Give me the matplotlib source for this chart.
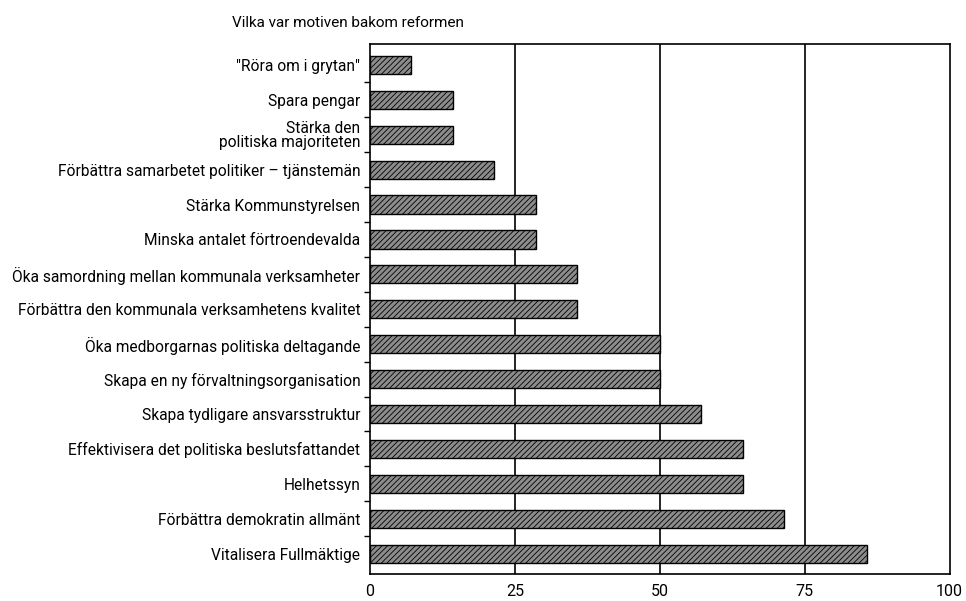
import matplotlib
matplotlib.use('Agg')
from matplotlib import pyplot as plt

# motiv, uppifrån och ned i diagrammet
motiv = ['"Röra om i grytan"', 'Spara pengar', 'Stärka den\npolitiska majoriteten',
         'Förbättra samarbetet politiker – tjänstemän', 'Stärka Kommunstyrelsen',
         'Minska antalet förtroendevalda', 'Öka samordning mellan kommunala verksamheter',
         'Förbättra den kommunala verksamhetens kvalitet', 'Öka medborgarnas politiska deltagande',
         'Skapa en ny förvaltningsorganisation', 'Skapa tydligare ansvarsstruktur',
         'Effektivisera det politiska beslutsfattandet', 'Helhetssyn',
         'Förbättra demokratin allmänt', 'Vitalisera Fullmäktige']
andel = [7.1, 14.3, 14.3, 21.4, 28.6, 28.6, 35.7, 35.7, 50.0, 50.0, 57.1, 64.3, 64.3, 71.4, 85.7]
xticks = [0, 25, 50, 75, 100]

plt.rcParams['font.family'] = ['Roboto', 'DejaVu Sans']
plt.rcParams['hatch.color'] = '#505050'
plt.rcParams['hatch.linewidth'] = 0.6

fig = plt.figure(figsize=(9.66, 6.01), dpi=100)
ax = fig.add_axes([0.383, 0.045, 0.6, 0.882])

y = list(range(len(motiv)))
ax.barh(y, andel, height=0.52, color='#8c8c8c', edgecolor='black', linewidth=1.0,
        hatch='//////', zorder=3)

for v in xticks[1:-1]:
    ax.axvline(v, color='black', lw=1.2, zorder=2)

ax.set_xlim(0, 100)
ax.set_ylim(len(motiv) - 0.42, -0.6)
ax.set_yticks(y)
ax.set_yticklabels(motiv, fontsize=11.2, linespacing=0.9)
ax.tick_params(axis='y', length=0, pad=7)
ax.set_yticks([i + 0.5 for i in y[:-1]], minor=True)
ax.tick_params(axis='y', which='minor', length=4, width=1)
ax.set_xticks(xticks)
ax.set_xticklabels([str(t) for t in xticks], fontsize=11.5)
ax.tick_params(axis='x', length=0, pad=7)
for s in ax.spines.values():
    s.set_linewidth(1.2)

fig.text(0.24, 0.962, 'Vilka var motiven bakom reformen', fontsize=11, ha='left', va='center')

fig.savefig('out.png', dpi=100)
